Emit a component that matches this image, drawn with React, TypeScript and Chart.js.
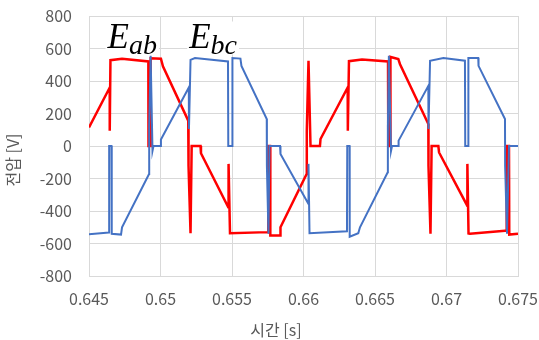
import React, { useEffect, useRef } from 'react';
import { Chart, registerables } from 'chart.js';

Chart.register(...registerables);

// Eab (red) waveform samples: time [s], voltage [V]
const redTime = [
  0.645, 0.64645, 0.64645, 0.6465, 0.64731, 0.64915, 0.64916, 0.6493, 0.64931, 0.65003,
  0.65017, 0.65194, 0.65196, 0.6521, 0.65218, 0.6528, 0.65283, 0.65474, 0.65476, 0.65486,
  0.65752, 0.65754, 0.65766, 0.65768, 0.65836, 0.65839, 0.66022, 0.66023, 0.66035, 0.66049,
  0.66115, 0.66119, 0.66309, 0.6631, 0.66318, 0.66409, 0.66591, 0.66593, 0.66607, 0.66608,
  0.66663, 0.66675, 0.66873, 0.66874, 0.66888, 0.66896, 0.66943, 0.66948, 0.67145, 0.67146,
  0.67154, 0.67164, 0.67409, 0.6742, 0.67421, 0.67437, 0.67439, 0.675,
];
const redVolt = [
  114, 360, 94, 528, 537, 520, 0, 0, 540, 537,
  490, 156, -121, -537, 0, 0, -45, -377, -110, -537,
  -530, 0, 0, -550, -550, -500, -172, 94, 524, 0,
  0, 43, 360, 94, 522, 532, 520, 0, 0, 548,
  535, 503, 135, -121, -540, 0, 0, -40, -367, -110,
  -538, -540, -522, -522, 0, 0, -545, -540,
];

// Ebc (blue) waveform samples: time [s], voltage [V]
const blueTime = [
  0.645, 0.6464, 0.64641, 0.64657, 0.64659, 0.64724, 0.64731, 0.6492, 0.64921, 0.64931,
  0.64944, 0.64951, 0.65001, 0.65003, 0.65198, 0.65199, 0.6521, 0.65241, 0.65472, 0.65474,
  0.65502, 0.65503, 0.65559, 0.65566, 0.65743, 0.65744, 0.65755, 0.65762, 0.65836, 0.65839,
  0.66034, 0.66035, 0.66042, 0.66304, 0.66306, 0.66322, 0.66323, 0.66383, 0.66395, 0.66589,
  0.6659, 0.66597, 0.66612, 0.66619, 0.66663, 0.66665, 0.66873, 0.66874, 0.66885, 0.66978,
  0.67129, 0.67131, 0.67152, 0.67153, 0.67222, 0.67224, 0.67409, 0.6741, 0.67423, 0.67437,
  0.675,
];
const blueVolt = [
  -543, -532, 0, 0, -540, -545, -500, -172, 126, 555,
  -30, 0, 0, 40, 360, 104, 530, 541, 520, 0,
  0, 541, 538, 493, 166, -121, -540, 0, 0, -49,
  -356, -110, -537, -525, 0, 0, -558, -537, -500, -162,
  114, 555, -30, 0, 0, 33, 370, 104, 524, 541,
  525, 0, 0, 541, 541, 493, 166, -121, -540, 0,
  0,
];

const xTicks = [0.645, 0.65, 0.655, 0.66, 0.665, 0.67, 0.675];
const xTickLabels = ['0.645', '0.65', '0.655', '0.66', '0.665', '0.67', '0.675'];
const yTicks = [-800, -600, -400, -200, 0, 200, 400, 600, 800];
const yTickLabels = ['-800', '-600', '-400', '-200', '0', '200', '400', '600', '800'];
const xTitle = '시간 [s]';
const yTitle = '전압 [V]';
const seriesNames = [
  { main: 'E', sub: 'ab', t: 0.6463, v: 600 },
  { main: 'E', sub: 'bc', t: 0.65201, v: 600 },
];

const FONT = '"Noto Sans CJK KR", "Noto Sans", sans-serif';

export default function App() {
  const ref = useRef<HTMLCanvasElement>(null);

  useEffect(() => {
    const canvas = ref.current;
    if (!canvas) return;

    const annot = {
      id: 'annot',
      afterDraw(chart: any) {
        const ctx = chart.ctx as CanvasRenderingContext2D;
        const xs = chart.scales.x;
        const ys = chart.scales.y;
        ctx.save();
        // axis titles
        ctx.fillStyle = '#595959';
        ctx.font = `16px ${FONT}`;
        ctx.textAlign = 'center';
        ctx.textBaseline = 'middle';
        ctx.fillText(xTitle, 276, 330);
        ctx.save();
        ctx.translate(13, 160);
        ctx.rotate(-Math.PI / 2);
        ctx.fillText(yTitle, 0, 0);
        ctx.restore();
        // series labels (math style)
        const mainFont = 'italic 35px "Liberation Serif", serif';
        const subFont = 'italic 28px "Liberation Serif", serif';
        seriesNames.forEach((s) => {
          const x0 = xs.getPixelForValue(s.t);
          const yb = ys.getPixelForValue(s.v) - 1;
          ctx.font = mainFont;
          const wMain = ctx.measureText(s.main).width;
          ctx.font = subFont;
          const wSub = ctx.measureText(s.sub).width;
          ctx.fillStyle = '#ffffff';
          ctx.fillRect(x0 - 2, yb - 26, wMain + wSub + 4, 33);
          ctx.fillStyle = '#000000';
          ctx.textAlign = 'left';
          ctx.textBaseline = 'alphabetic';
          ctx.font = mainFont;
          ctx.fillText(s.main, x0, yb);
          ctx.font = subFont;
          ctx.fillText(s.sub, x0 + wMain, yb + 6);
        });
        ctx.restore();
      },
    };

    const noPad = (s: any) => {
      s.paddingTop = 0;
      s.paddingBottom = 0;
      s.paddingLeft = 0;
      s.paddingRight = 0;
    };

    const chart = new Chart(canvas, {
      type: 'line',
      data: {
        datasets: [
          {
            label: 'Eab',
            data: redTime.map((t, i) => ({ x: t, y: redVolt[i] })),
            borderColor: '#ff0000',
            backgroundColor: '#ff0000',
            borderWidth: 2.5,
            pointRadius: 0,
            tension: 0,
            order: 1,
          },
          {
            label: 'Ebc',
            data: blueTime.map((t, i) => ({ x: t, y: blueVolt[i] })),
            borderColor: '#4472c4',
            backgroundColor: '#4472c4',
            borderWidth: 2,
            pointRadius: 0,
            tension: 0,
            order: 0,
          },
        ],
      },
      options: {
        responsive: false,
        animation: false,
        devicePixelRatio: 1,
        layout: { padding: { left: 0, right: 21, top: 16, bottom: 0 } },
        plugins: {
          legend: { display: false },
          tooltip: { enabled: false },
        },
        scales: {
          x: {
            type: 'linear',
            min: 0.645,
            max: 0.675,
            afterBuildTicks: (s: any) => {
              s.ticks = xTicks.map((v) => ({ value: v }));
            },
            afterFit: (s: any) => {
              s.height = 64;
              noPad(s);
            },
            ticks: {
              callback: (_v: any, i: number) => xTickLabels[i],
              color: '#595959',
              font: { family: FONT, size: 16 },
              padding: 13,
              maxRotation: 0,
              autoSkip: false,
            },
            grid: { color: '#d9d9d9', drawTicks: false },
            border: { color: '#d9d9d9' },
          },
          y: {
            type: 'linear',
            min: -800,
            max: 800,
            afterBuildTicks: (s: any) => {
              s.ticks = yTicks.map((v) => ({ value: v }));
            },
            afterFit: (s: any) => {
              s.width = 89;
              noPad(s);
            },
            ticks: {
              callback: (_v: any, i: number) => yTickLabels[i],
              color: '#595959',
              font: { family: FONT, size: 16 },
              padding: 17,
              autoSkip: false,
            },
            grid: { color: '#d9d9d9', drawTicks: false },
            border: { color: '#d9d9d9' },
          },
        },
      },
      plugins: [annot],
    });

    return () => chart.destroy();
  }, []);

  return (
    <div style={{ position: 'fixed', left: 0, top: 0, width: 539, height: 340, background: '#ffffff' }}>
      <canvas ref={ref} width={539} height={340} style={{ display: 'block', width: 539, height: 340 }} />
    </div>
  );
}
